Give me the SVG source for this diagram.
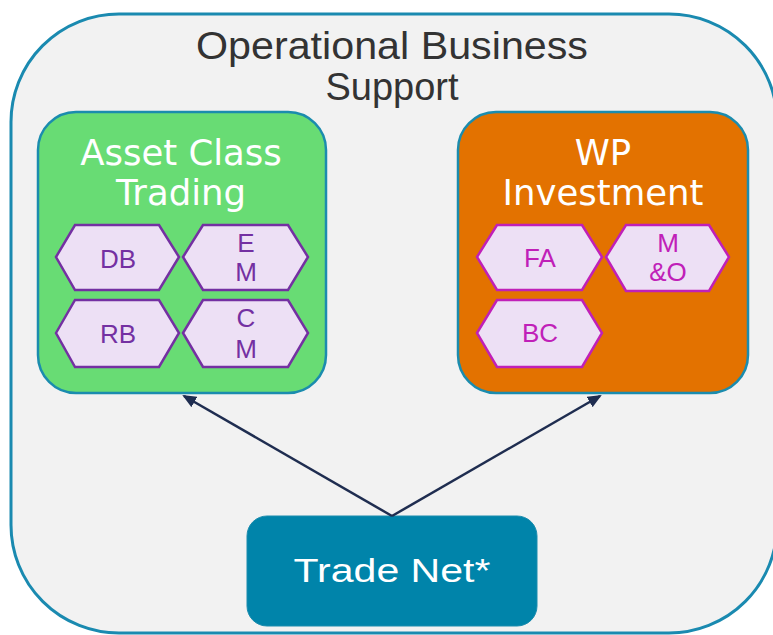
<svg xmlns="http://www.w3.org/2000/svg" width="773" height="635" viewBox="0 0 773 635">
<style>
.outer{fill:#f2f2f2;stroke:#1a8ab0;stroke-width:3}
.box{stroke:#1b8cae;stroke-width:2.5}
.green{fill:#68dc74}
.orange{fill:#e37200}
.hexp{fill:#ede0f5;stroke:#7430a2;stroke-width:2.5}
.hexm{fill:#ede0f5;stroke:#c020b8;stroke-width:2.5}
.tp{font-family:"Liberation Sans",Arial,sans-serif;font-size:26px;fill:#7430a2;text-anchor:middle}
.tm{font-family:"Liberation Sans",Arial,sans-serif;font-size:26px;fill:#c020b8;text-anchor:middle}
.title{font-family:"Liberation Sans",Arial,sans-serif;font-size:38px;fill:#333333;text-anchor:middle}
.sub{font-family:"DejaVu Sans",Verdana,sans-serif;font-size:35.5px;fill:#ffffff;text-anchor:middle}
.tn{font-family:"Liberation Sans",Arial,sans-serif;font-size:33px;fill:#ffffff;text-anchor:middle}
.conn{stroke:#1f2d50;stroke-width:2.5;fill:none;marker-end:url(#arr)}
</style>
<defs>
<marker id="arr" markerWidth="14" markerHeight="12" refX="12" refY="6" orient="auto" markerUnits="userSpaceOnUse">
<path d="M0,0 L14,6 L0,12 Z" fill="#1f2d50"/>
</marker>
</defs>
<g id="operational-business-support">
<rect class="outer" x="11" y="14" width="766" height="619" rx="108" ry="108"/>
<text class="title" x="392" y="59" textLength="392" lengthAdjust="spacingAndGlyphs">Operational Business</text>
<text class="title" x="392" y="100">Support</text>
</g>
<g id="asset-class-trading">
<rect class="box green" x="38" y="112" width="288" height="281" rx="38" ry="38"/>
<text class="sub" x="181" y="165">Asset Class</text>
<text class="sub" x="181" y="205">Trading</text>
</g>
<g id="db">
<polygon class="hexp" points="56,257 75,225 159,225 179,257 159,290 75,290"/>
<text class="tp" x="118" y="268">DB</text>
</g>
<g id="em">
<polygon class="hexp" points="183,257 203,225 288,225 308,257 288,290 203,290"/>
<text class="tp" x="246" y="252">E</text>
<text class="tp" x="246" y="281">M</text>
</g>
<g id="rb">
<polygon class="hexp" points="56,333 75,300 159,300 179,333 159,367 75,367"/>
<text class="tp" x="118" y="343">RB</text>
</g>
<g id="cm">
<polygon class="hexp" points="183,333 203,300 288,300 308,333 288,367 203,367"/>
<text class="tp" x="246" y="327">C</text>
<text class="tp" x="246" y="358">M</text>
</g>
<g id="wp-investment">
<rect class="box orange" x="458" y="112" width="290" height="281" rx="38" ry="38"/>
<text class="sub" x="603" y="165">WP</text>
<text class="sub" x="603" y="205">Investment</text>
</g>
<g id="fa">
<polygon class="hexm" points="477,257 497,225 582,225 602,257 582,290 497,290"/>
<text class="tm" x="540" y="267">FA</text>
</g>
<g id="mo">
<polygon class="hexm" points="606,257 626,225 709,225 729,257 709,291 626,291"/>
<text class="tm" x="668" y="252">M</text>
<text class="tm" x="668" y="281">&amp;O</text>
</g>
<g id="bc">
<polygon class="hexm" points="477,333 497,300 582,300 602,333 582,367 497,367"/>
<text class="tm" x="540" y="342">BC</text>
</g>
<g id="trade-net">
<rect x="247" y="516" width="290" height="110" rx="20" ry="20" fill="#0084aa" stroke="#1b8cae" stroke-width="1"/>
<text class="tn" x="392" y="582" textLength="197" lengthAdjust="spacingAndGlyphs">Trade Net*</text>
</g>
<g id="connectors">
<line class="conn" x1="392" y1="516" x2="184" y2="396"/>
<line class="conn" x1="392" y1="516" x2="600" y2="396"/>
</g>
</svg>
